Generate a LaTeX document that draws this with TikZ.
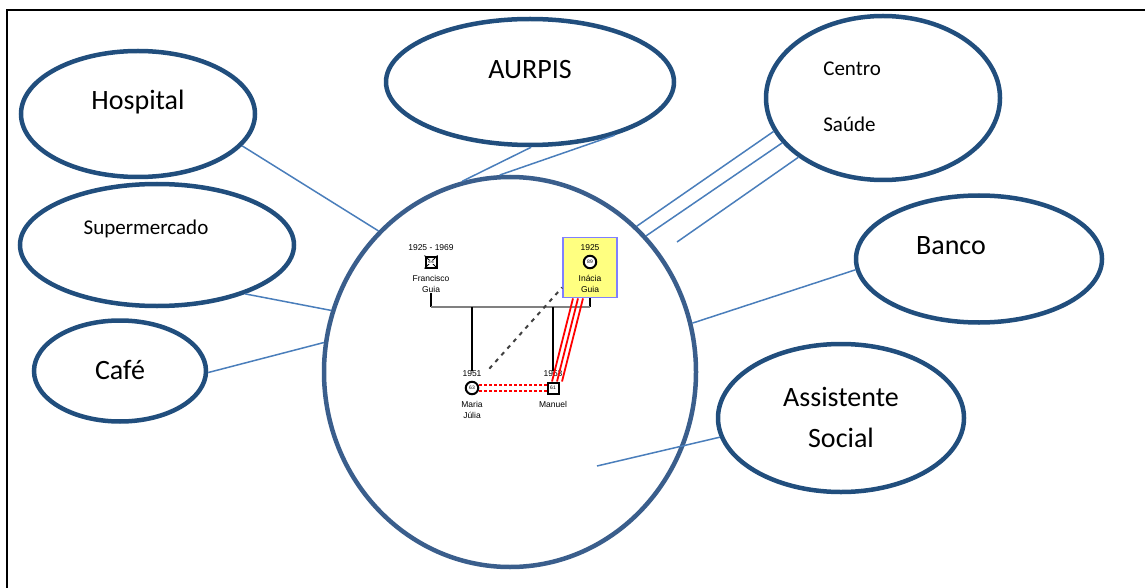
\documentclass[tikz,border=0pt]{standalone}
\usepackage{fontspec}
\setmainfont{Carlito}
\newfontfamily\genofont{Liberation Sans}
\usetikzlibrary{shapes,arrows,positioning}
\definecolor{netblue}{RGB}{33,78,125}
\definecolor{famblue}{RGB}{58,94,140}
\definecolor{linkblue}{RGB}{74,126,187}
\definecolor{boxyellow}{RGB}{255,255,128}
\definecolor{boxviolet}{RGB}{128,128,255}

\begin{document}
\begin{tikzpicture}[x=1pt, y=-1pt, semithick, node distance=3cm]
        \tikzstyle{net}=[draw=netblue, line width=4.5pt, ellipse, inner sep=0pt]
        \tikzstyle{big}=[font=\fontsize{28}{34}\selectfont, inner sep=0pt]
        \tikzstyle{mid}=[font=\fontsize{21}{25}\selectfont, inner sep=0pt]
        \tikzstyle{tie}=[draw=linkblue, line width=1.5pt]
        \tikzstyle{geno}=[font=\genofont\fontsize{8.5}{11}\selectfont, inner sep=0pt, align=center]
        \tikzstyle{age}=[font=\genofont\fontsize{5}{5}\selectfont, inner sep=0.5pt]
        \tikzstyle{man}=[draw, rectangle, line width=2pt, minimum size=11pt, fill=white, age]
        \tikzstyle{woman}=[draw, circle, line width=2pt, minimum size=12.5pt, fill=white, age]
        \useasboundingbox (0,0) rectangle (1145,588);
        \draw[line width=2pt] (7,588) -- (7,10) -- (1145,10);

        % rede de suporte
        \node[net, minimum width=234, minimum height=126] (hosp)  at (138,114) {};
        \node[net, minimum width=288, minimum height=126] (aurp)  at (530,82)  {};
        \node[net, minimum width=234, minimum height=164] (cent)  at (883,98)  {};
        \node[net, minimum width=246, minimum height=127] (banc)  at (979,259) {};
        \node[net, minimum width=246, minimum height=148] (asso)  at (841,418) {};
        \node[net, minimum width=274, minimum height=122] (super) at (157,245) {};
        \node[net, minimum width=172, minimum height=101] (cafe)  at (120,371) {};
        \node[net, draw=famblue, minimum width=372, minimum height=390] (fam) at (510,372) {};

        \node[big] (hosp-l) at (138,102) {Hospital};
        \node[big] (aurp-l) at (530,70)  {AURPIS};
        \node[mid, anchor=west] (cent-l1) at (823,69)  {Centro};
        \node[mid, anchor=west] (cent-l2) at (823,124) {Saúde};
        \node[big] (banc-l) at (951,246) {Banco};
        \node[big] (asso-l1) at (841,397) {Assistente};
        \node[big] (asso-l2) at (841,438) {Social};
        \node[mid] (super-l) at (146,229) {Supermercado};
        \node[big] (cafe-l) at (120,370) {Café};

        \coordinate (cent-e) at (677,242);
        \coordinate (asso-e) at (597,466);
        \draw[tie] (fam.133) -- (hosp.-17);
        \draw[tie] (fam.104) -- (aurp.-89);
        \draw[tie] (fam.93)  -- (aurp.-32);
        \draw[tie] (fam.49)  -- (cent.197);
        \draw[tie] (fam.45)  -- (cent.204);
        \draw[tie] (cent-e)  -- (cent.215);
        \draw[tie] (fam.15)  -- (banc.185);
        \draw[tie] (asso-e)  -- (asso.189);
        \draw[tie] (fam.161) -- (super.-29);
        \draw[tie] (fam.171) -- (cafe.-1);

        % genograma
        \node[draw=boxviolet, fill=boxyellow, line width=1.8pt, minimum width=54pt, minimum height=60pt] (inbox) at (590,267.5) {};
        \node[man] (fran) at (431,262) {};
        \draw[line width=1pt] (fran.north west) -- (fran.south east) (fran.north east) -- (fran.south west);
        \node[age, fill=white] (fran-a) at (fran) {44};
        \node[geno] (fran-d)[above of=fran, node distance=14pt] {1925 - 1969};
        \node[geno] (fran-n)[below of=fran, node distance=22pt] {Francisco\\Guia};
        \node[woman] (inac) at (590,262) {89};
        \node[geno] (inac-d)[above of=inac, node distance=14pt] {1925};
        \node[geno] (inac-n)[below of=inac, node distance=22pt] {Inácia\\Guia};

        \node[woman] (mari) at (472,388) {63};
        \node[geno] (mari-d)[above of=mari, node distance=14pt] {1951};
        \node[geno] (mari-n)[below of=mari, node distance=22pt] {Maria\\Júlia};
        \node[man] (manu) at (553,388) {61};
        \node[geno] (manu-d)[above of=manu, node distance=14pt] {1953};
        \node[geno] (manu-n)[below of=manu, node distance=16pt] {Manuel};

        \coordinate (wed-l) at (431,307);
        \coordinate (wed-r) at (590,307);
        \coordinate (kid-m) at (472,307);
        \coordinate (kid-n) at (553,307);
        \draw[line width=2pt] (fran-n.south) -- (wed-l);
        \draw[line width=2pt] (inbox.south) -- (wed-r);
        \draw[gray, line width=2.4pt] (wed-l) -- (wed-r);
        \draw[line width=2pt] (kid-m) -- (mari-d.north);
        \draw[line width=2pt] (kid-n) -- (manu-d.north);

        \draw[black!75, line width=2pt, dash pattern=on 4pt off 5pt, shorten <=26pt] (mari.center) -- ([yshift=-20pt]inbox.west);
        \foreach \a/\b in {-1/-17, 4/-12, 9/-7}
            \draw[red, line width=1.8pt] ([xshift=\a pt]manu.north) -- ([xshift=\b pt]inbox.south);
        \foreach \s in {-3,3}
            \draw[red, line width=2.2pt, dash pattern=on 3pt off 2pt] ([yshift=\s pt]mari.east) -- ([yshift=\s pt]manu.west);
\end{tikzpicture}
\end{document}
